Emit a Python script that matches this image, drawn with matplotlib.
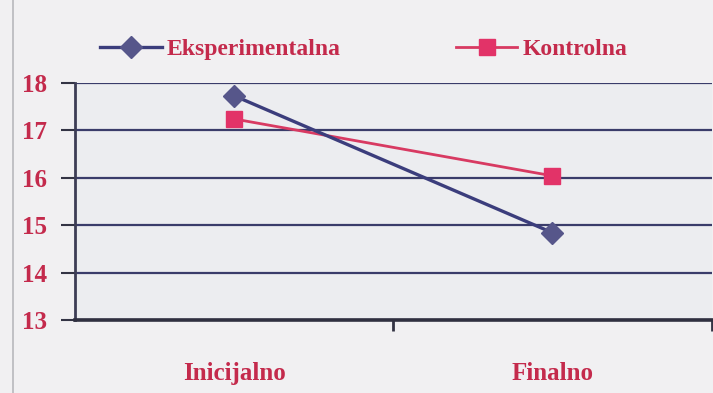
import matplotlib
matplotlib.use("Agg")
import matplotlib.pyplot as plt
from matplotlib.lines import Line2D

categories = ["Inicijalno", "Finalno"]
series_names = ["Eksperimentalna", "Kontrolna"]
eksperimentalna = [17.73, 14.84]
kontrolna = [17.24, 16.04]
y_ticks = [13, 14, 15, 16, 17, 18]

plt.rcParams["font.family"] = ["Liberation Serif", "DejaVu Serif"]

label_red = "#c42a4c"
navy = "#3b3d7c"
pink = "#e23368"

fig = plt.figure(figsize=(7.13, 3.93), dpi=100, facecolor="#f1f0f2")
ax = fig.add_axes([0.105, 0.186, 0.893, 0.603], facecolor="#ecedf0")

x = list(range(len(categories)))
ax.plot(x, eksperimentalna, color=navy, lw=2.4, marker="D", markersize=11,
        markerfacecolor="#56568a", markeredgecolor="#56568a",
        label=series_names[0], zorder=4)
ax.plot(x, kontrolna, color="#d83a62", lw=2.0, marker="s", markersize=12,
        markerfacecolor=pink, markeredgecolor=pink,
        label=series_names[1], zorder=3)

ax.set_ylim(13, 18)
ax.set_xlim(-0.5, 1.5)
ax.set_yticks(y_ticks)
ax.set_yticklabels([str(v) for v in y_ticks])
ax.yaxis.grid(True, color="#3a3c6a", lw=1.6)
ax.set_axisbelow(True)

ax.set_xticks(x)
ax.set_xticklabels(categories)
ax.set_xticks([0.5, 1.5], minor=True)
ax.tick_params(axis="x", which="major", length=0, pad=30, labelsize=18,
               labelcolor=label_red)
ax.tick_params(axis="x", which="minor", length=8, width=2, color="#333344",
               direction="out")
ax.tick_params(axis="y", length=10, width=1.5, color="#333344", pad=10,
               labelsize=18, labelcolor=label_red)
for lbl in ax.get_xticklabels() + ax.get_yticklabels():
    lbl.set_fontweight("bold")

for side in ("top", "right"):
    ax.spines[side].set_visible(False)
ax.spines["left"].set_color("#3d3d55")
ax.spines["left"].set_linewidth(2.0)
ax.spines["bottom"].set_color("#303040")
ax.spines["bottom"].set_linewidth(2.6)

leg = fig.legend(loc="center", bbox_to_anchor=(0.51, 0.875), ncol=2,
                 frameon=False, handlelength=2.6,
                 prop={"size": 17, "weight": "bold"},
                 columnspacing=4.9, handletextpad=0.2)
for t in leg.get_texts():
    t.set_color(label_red)

# thin frame edge on the left of the canvas
fig.add_artist(Line2D([0.018, 0.018], [0.0, 1.0], transform=fig.transFigure,
                      color="#b8b8bc", lw=1.2))

fig.savefig("out.png", dpi=100, facecolor=fig.get_facecolor())
